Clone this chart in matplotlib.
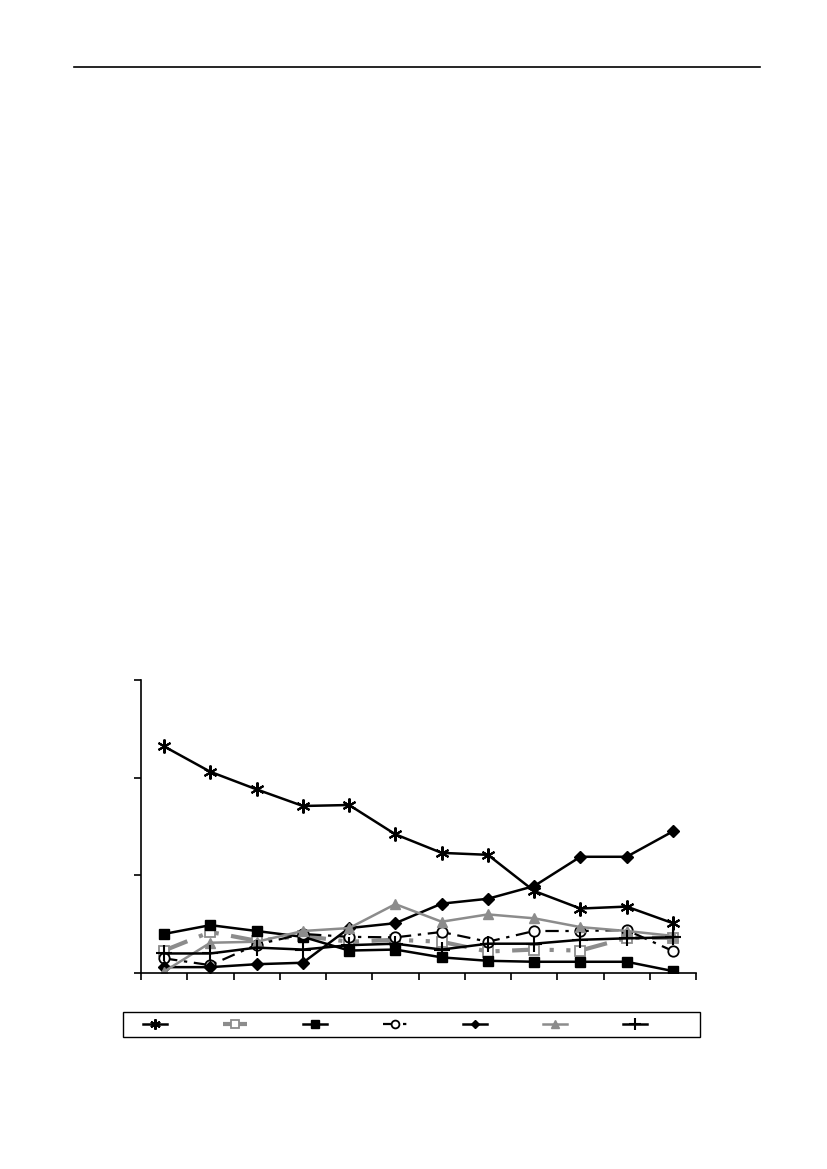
import matplotlib
matplotlib.use('Agg')
import matplotlib.pyplot as plt
from matplotlib.lines import Line2D
from matplotlib.patches import Rectangle

# 12 categories along the x axis (labels not shown in the source)
categories = list(range(1, 13))

# series values (y axis 0..3)
star = [2.32, 2.06, 1.88, 1.71, 1.72, 1.42, 1.23, 1.21, 0.84, 0.66, 0.68, 0.51]
gray_square = [0.23, 0.42, 0.33, 0.38, 0.32, 0.34, 0.32, 0.22, 0.24, 0.23, 0.36, 0.36]
black_square = [0.40, 0.49, 0.43, 0.37, 0.23, 0.24, 0.16, 0.125, 0.115, 0.115, 0.115, 0.02]
circle = [0.15, 0.08, 0.29, 0.40, 0.37, 0.365, 0.42, 0.32, 0.43, 0.43, 0.44, 0.225]
diamond = [0.06, 0.06, 0.09, 0.105, 0.46, 0.51, 0.71, 0.76, 0.89, 1.19, 1.19, 1.45]
triangle = [0.015, 0.31, 0.32, 0.43, 0.46, 0.705, 0.525, 0.60, 0.56, 0.47, 0.43, 0.38]
plus = [0.20, 0.20, 0.26, 0.24, 0.285, 0.30, 0.24, 0.30, 0.30, 0.34, 0.355, 0.365]

W, H = 827, 1169
fig = plt.figure(figsize=(W / 100, H / 100), dpi=100)

# horizontal rule at the top of the page
fig.add_artist(Line2D([74 / W, 760 / W], [1 - 67 / H, 1 - 67 / H], color='black', lw=1.2))

ax = fig.add_axes([141 / W, (H - 973) / H, (696 - 141) / W, (973 - 680) / H])

grey = '#8c8c8c'
styles = [
    (star, dict(color='black', lw=1.8, marker=(6, 2, 0), ms=10, mew=1.5)),
    (gray_square, dict(color=grey, lw=3, dashes=(6, 3, 1, 3, 1, 3), marker='s', ms=7,
                       mfc='white', mec=grey, mew=1.3)),
    (black_square, dict(color='black', lw=1.8, marker='s', ms=7.5)),
    (circle, dict(color='black', lw=1.6, dashes=(6, 3, 1.5, 3), marker='o', ms=7.5,
                  mfc='white', mec='black', mew=1.3)),
    (diamond, dict(color='black', lw=1.8, marker='D', ms=6)),
    (triangle, dict(color=grey, lw=1.8, marker='^', ms=7.5, mfc=grey, mec=grey)),
    (plus, dict(color='black', lw=1.8, marker='+', ms=11, mew=1.5)),
]

handles = []
for values, st in styles:
    line, = ax.plot(categories, values, **st)
    handles.append(line)

ax.set_xlim(0.5, 12.5)
ax.set_ylim(0, 3)
ax.set_yticks([0, 1, 2, 3])
ax.set_xticks([i + 0.5 for i in range(0, 13)])
ax.set_yticklabels([])
ax.set_xticklabels([])
ax.tick_params(direction='out', length=5, width=1.2, colors='black')
for side in ['top', 'right']:
    ax.spines[side].set_visible(False)
for side in ['left', 'bottom']:
    ax.spines[side].set_linewidth(1.2)

# legend frame (box is wider than its entries)
fig.add_artist(Rectangle((123 / W, (H - 1037) / H), (700 - 123) / W, 25 / H,
                         transform=fig.transFigure, fill=False, edgecolor='black', lw=1.0))
leg = fig.legend(handles, [''] * len(handles), ncol=7, loc='center left',
                 bbox_to_anchor=(143 / W, (H - 1024.5) / H),
                 borderaxespad=0, borderpad=0, frameon=False,
                 handlelength=1.7, handletextpad=0, columnspacing=4.06,
                 markerscale=0.75)

fig.savefig('out.png', dpi=100)
